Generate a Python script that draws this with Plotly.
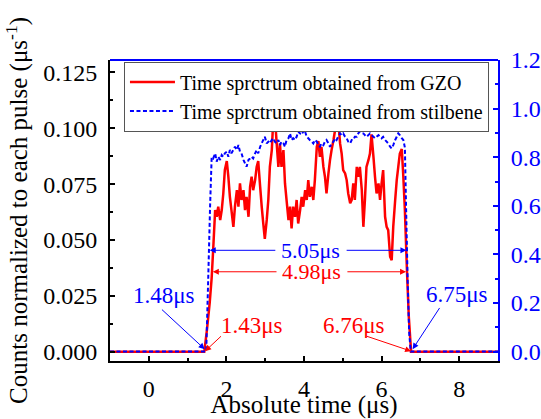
import plotly.graph_objects as go

# ---------------- data ----------------
t_gzo = [-1.0, 1.43, 1.50, 1.57, 1.62, 1.66, 1.71, 1.75, 1.79, 1.84, 1.88, 1.92, 1.96,
         2.01, 2.05, 2.09, 2.13, 2.18, 2.22, 2.27, 2.31, 2.35, 2.39, 2.44, 2.48, 2.52,
         2.57, 2.61, 2.65, 2.69, 2.74, 2.78, 2.82, 2.87, 2.91, 2.95, 2.99, 3.04, 3.08,
         3.12, 3.17, 3.21, 3.25, 3.29, 3.34, 3.38, 3.42, 3.47, 3.51, 3.55, 3.60, 3.64,
         3.68, 3.72, 3.77, 3.81, 3.85, 3.90, 3.94, 3.98, 4.03, 4.07, 4.11, 4.15, 4.20,
         4.24, 4.28, 4.33, 4.37, 4.41, 4.45, 4.50, 4.54, 4.58, 4.63, 4.67, 4.71, 4.76,
         4.80, 4.84, 4.88, 4.93, 4.97, 5.01, 5.06, 5.10, 5.14, 5.19, 5.23, 5.27, 5.31,
         5.36, 5.40, 5.44, 5.49, 5.53, 5.57, 5.61, 5.66, 5.70, 5.74, 5.79, 5.83, 5.87,
         5.92, 5.96, 6.00, 6.04, 6.09, 6.13, 6.17, 6.22, 6.26, 6.30, 6.35, 6.39, 6.43,
         6.47, 6.52, 6.56, 6.60, 6.65, 6.70, 6.76, 9.0]
v_gzo = [0.0, 0.0, 0.010, 0.022, 0.033, 0.046, 0.0634, 0.0604, 0.0649, 0.0589, 0.0634,
         0.0708, 0.0813, 0.0853, 0.0783, 0.0693, 0.0634, 0.0559, 0.0649, 0.0723, 0.0649,
         0.0753, 0.0679, 0.0723, 0.0634, 0.0693, 0.0604, 0.0738, 0.0783, 0.0723, 0.0768,
         0.0827, 0.0853, 0.0738, 0.0649, 0.0574, 0.0505, 0.0590, 0.0679, 0.0827, 0.0902,
         0.1046, 0.1056, 0.0947, 0.0827, 0.0932, 0.0827, 0.0902, 0.0753, 0.0679, 0.0589,
         0.0649, 0.0552, 0.0649, 0.0604, 0.0679, 0.0574, 0.0634, 0.0693, 0.0649, 0.0723,
         0.0679, 0.0768, 0.0693, 0.0738, 0.0679, 0.0768, 0.0917, 0.0942, 0.0872, 0.0917,
         0.0827, 0.0783, 0.0708, 0.0798, 0.0857, 0.0902, 0.0947, 0.0991, 0.1058, 0.1040,
         0.0932, 0.0887, 0.0813, 0.0798, 0.0768, 0.0708, 0.0664, 0.0679, 0.0753, 0.0679,
         0.0827, 0.0783, 0.0827, 0.0723, 0.0559, 0.0679, 0.0827, 0.0857, 0.0887, 0.0972,
         0.0872, 0.0783, 0.0708, 0.0753, 0.0679, 0.0753, 0.0813, 0.0604, 0.0559, 0.0544,
         0.0425, 0.0410, 0.0559, 0.0679, 0.0768, 0.0827, 0.0887, 0.0907, 0.0783, 0.0634,
         0.0380, 0.016, 0.0, 0.0]

t_stil = [-1.0, 1.48, 1.53, 1.58, 1.62, 1.66, 1.71, 1.75, 1.79, 1.84, 1.88, 1.92, 1.96,
          2.01, 2.05, 2.09, 2.13, 2.18, 2.22, 2.27, 2.31, 2.35, 2.39, 2.44, 2.48, 2.52,
          2.57, 2.61, 2.65, 2.69, 2.74, 2.78, 2.82, 2.87, 2.91, 2.95, 2.99, 3.04, 3.08,
          3.12, 3.17, 3.21, 3.25, 3.29, 3.34, 3.38, 3.42, 3.47, 3.51, 3.55, 3.60, 3.64,
          3.68, 3.72, 3.77, 3.81, 3.85, 3.90, 3.94, 3.98, 4.03, 4.07, 4.11, 4.15, 4.20,
          4.24, 4.28, 4.33, 4.37, 4.41, 4.45, 4.50, 4.54, 4.58, 4.63, 4.67, 4.71, 4.76,
          4.80, 4.84, 4.88, 4.93, 4.97, 5.01, 5.06, 5.10, 5.14, 5.19, 5.23, 5.27, 5.31,
          5.36, 5.40, 5.44, 5.49, 5.53, 5.57, 5.61, 5.66, 5.70, 5.74, 5.79, 5.83, 5.87,
          5.92, 5.96, 6.00, 6.04, 6.09, 6.13, 6.17, 6.22, 6.26, 6.30, 6.35, 6.39, 6.43,
          6.47, 6.52, 6.56, 6.60, 6.63, 6.67, 6.71, 6.75, 9.0]
v_stil = [0.0, 0.0, 0.29, 0.60, 0.80, 0.795, 0.816, 0.782, 0.802, 0.789, 0.809, 0.802,
          0.816, 0.823, 0.802, 0.830, 0.816, 0.830, 0.843, 0.830, 0.850, 0.823, 0.816,
          0.789, 0.775, 0.761, 0.789, 0.795, 0.802, 0.795, 0.816, 0.830, 0.816, 0.843,
          0.857, 0.871, 0.884, 0.857, 0.864, 0.857, 0.871, 0.878, 0.864, 0.857, 0.871,
          0.850, 0.864, 0.857, 0.843, 0.871, 0.878, 0.898, 0.871, 0.878, 0.871, 0.884,
          0.905, 0.898, 0.912, 0.898, 0.905, 0.884, 0.878, 0.871, 0.864, 0.857, 0.871,
          0.864, 0.850, 0.843, 0.857, 0.850, 0.864, 0.871, 0.857, 0.843, 0.857, 0.864,
          0.878, 0.871, 0.884, 0.898, 0.891, 0.898, 0.884, 0.878, 0.864, 0.857, 0.871,
          0.871, 0.884, 0.884, 0.898, 0.905, 0.898, 0.898, 0.891, 0.884, 0.891, 0.898,
          0.891, 0.884, 0.878, 0.884, 0.891, 0.884, 0.878, 0.884, 0.871, 0.864, 0.857,
          0.843, 0.836, 0.850, 0.871, 0.884, 0.898, 0.891, 0.878, 0.871, 0.84, 0.60,
          0.30, 0.08, 0.0, 0.0]

x_ticks = [0, 2, 4, 6, 8]
y_left_ticks = [0.000, 0.025, 0.050, 0.075, 0.100, 0.125]
y_right_ticks = [0.0, 0.2, 0.4, 0.6, 0.8, 1.0, 1.2]

# annotation contents
edge_labels = ["1.48μs", "1.43μs", "6.76μs", "6.75μs"]
edge_text_pos = [(0.38, 0.0251), (2.65, 0.0120), (5.28, 0.0120), (7.94, 0.0256)]
edge_tails = [(0.30, 0.0195), (1.90, 0.0076), (5.58, 0.0072), (7.52, 0.0203)]
edge_heads = [(1.44, 0.0012), (1.45, 0.0003), (6.76, 0.0003), (6.80, 0.0012)]
edge_colors = ["#0000ff", "#ff0000", "#ff0000", "#0000ff"]

width_labels = ["5.05μs", "4.98μs"]
width_y = [0.0454, 0.0358]
width_ends = [(1.57, 6.64), (1.65, 6.63)]
width_gap = [(3.30, 5.06), (3.33, 5.08)]
width_colors = ["#0000ff", "#ff0000"]

RED = "#ff0000"
BLUE = "#0000ff"
FONT = "Liberation Serif, Times New Roman, serif"

fig = go.Figure()
fig.add_trace(go.Scatter(x=t_gzo, y=v_gzo, mode="lines",
                         line=dict(color=RED, width=2.5, simplify=False),
                         name="Time sprctrum obtained from GZO"))
fig.add_trace(go.Scatter(x=t_stil, y=v_stil, mode="lines", yaxis="y2",
                         line=dict(color=BLUE, width=2, dash="4px,2.5px", simplify=False),
                         name="Time sprctrum obtained from stilbene"))

annotations = []
for lab, (tx, ty), (ax_, ay_), (hx, hy), c in zip(edge_labels, edge_text_pos, edge_tails,
                                                   edge_heads, edge_colors):
    annotations.append(dict(x=tx, y=ty, xref="x", yref="y", text=lab, showarrow=False,
                            font=dict(size=23, color=c, family=FONT)))
    annotations.append(dict(x=hx, y=hy, ax=ax_, ay=ay_, xref="x", yref="y",
                            axref="x", ayref="y", text="", showarrow=True,
                            arrowhead=2, arrowsize=1.2, arrowwidth=1, arrowcolor=c))

for lab, yv, (x0, x1), (g0, g1), c in zip(width_labels, width_y, width_ends, width_gap,
                                          width_colors):
    annotations.append(dict(x=(g0 + g1) / 2, y=yv, xref="x", yref="y", text=lab,
                            showarrow=False, font=dict(size=22, color=c, family=FONT)))
    annotations.append(dict(x=x0, y=yv, ax=g0, ay=yv, xref="x", yref="y",
                            axref="x", ayref="y", text="", showarrow=True,
                            arrowhead=2, arrowsize=1.2, arrowwidth=1, arrowcolor=c))
    annotations.append(dict(x=x1, y=yv, ax=g1, ay=yv, xref="x", yref="y",
                            axref="x", ayref="y", text="", showarrow=True,
                            arrowhead=2, arrowsize=1.2, arrowwidth=1, arrowcolor=c))

fig.update_layout(
    width=541, height=419,
    margin=dict(l=110, r=43, t=60, b=58, autoexpand=False),
    paper_bgcolor="white", plot_bgcolor="white",
    font=dict(family=FONT, size=24, color="black"),
    showlegend=True,
    legend=dict(x=0.036, y=0.995, xanchor="left", yanchor="top",
                bgcolor="white", bordercolor="#555555", borderwidth=1,
                font=dict(size=20, family=FONT, color="black"),
                tracegroupgap=0, itemwidth=45),
    xaxis=dict(range=[-1, 9], tickvals=x_ticks, ticks="inside", ticklen=5,
               tickwidth=1.5, tickcolor="black", showline=True, linecolor="black",
               linewidth=2, showgrid=False, zeroline=False, ticklabelstandoff=5,
               automargin=False, tickfont=dict(size=24, family=FONT),
               minor=dict(ticks="inside", ticklen=3, tickwidth=1.5, dtick=1,
                          tick0=0, tickcolor="black", showgrid=False),
               title=dict(text="Absolute time (μs)", font=dict(size=25, family=FONT),
                          standoff=0)),
    yaxis=dict(range=[-0.0041, 0.1305], tickvals=y_left_ticks, tickformat=".3f",
               ticks="inside", ticklen=5, tickwidth=1.5, tickcolor="black",
               showline=True, linecolor="black", linewidth=2, showgrid=False,
               zeroline=False, ticklabelstandoff=6, automargin=False,
               tickfont=dict(size=24, family=FONT),
               minor=dict(ticks="inside", ticklen=3, tickwidth=1.5, dtick=0.0125,
                          tick0=0, tickcolor="black", showgrid=False),
               title=dict(text="Counts normalized to each pulse (μs<sup>-1</sup>)",
                          font=dict(size=25, family=FONT), standoff=8)),
    yaxis2=dict(range=[-0.0387, 1.2001], overlaying="y", side="right",
                tickvals=y_right_ticks, tickformat=".1f", ticks="inside", ticklen=5,
                tickwidth=1.5, tickcolor=BLUE, showline=True, linecolor=BLUE,
                linewidth=2, showgrid=False, zeroline=False, ticklabelstandoff=6,
                automargin=False, tickfont=dict(size=24, family=FONT, color=BLUE),
                minor=dict(ticks="inside", ticklen=3, tickwidth=1.5, dtick=0.1,
                           tick0=0, tickcolor=BLUE, showgrid=False)),
    shapes=[dict(type="line", xref="paper", yref="paper", x0=0, x1=1, y0=1, y1=1,
                 line=dict(color=BLUE, width=2))],
    annotations=annotations,
)

# remove the browser's default page margin so the 541x419 figure fills the window
fig.write_html("out.html",
               config={"displayModeBar": False},
               post_script="document.body.style.margin='0px';"
                           "document.body.style.overflow='hidden';")
